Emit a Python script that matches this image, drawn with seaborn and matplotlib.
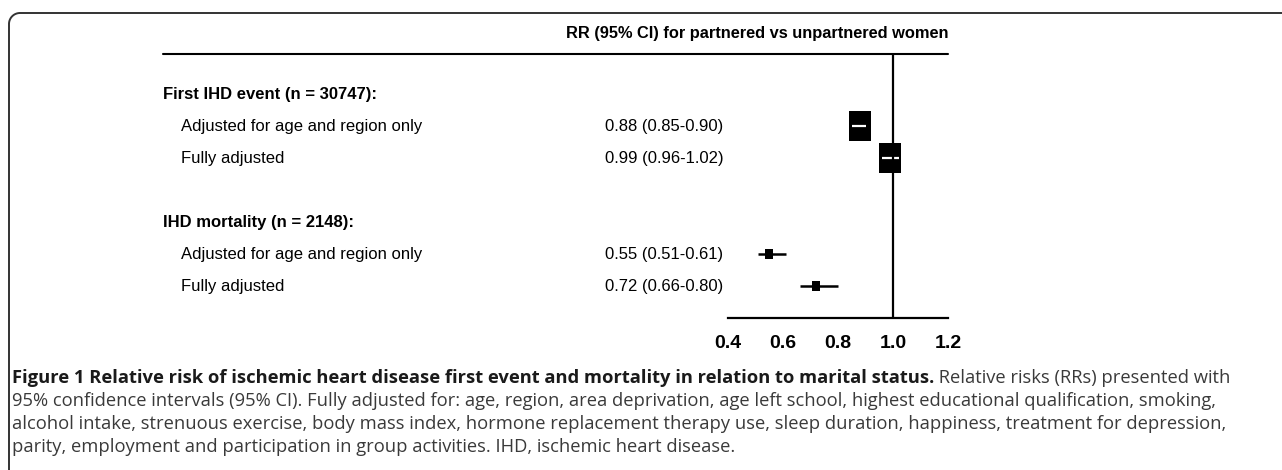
import numpy as np
import pandas as pd
import seaborn as sns
import matplotlib.pyplot as plt
from matplotlib.path import Path
from matplotlib.lines import Line2D
from matplotlib.transforms import blended_transform_factory

# data
groups = ["First IHD event (n = 30747):", "IHD mortality (n = 2148):"]
models = ["Adjusted for age and region only", "Fully adjusted"]
rr_first = [0.88, 0.99]
lo_first = [0.85, 0.96]
hi_first = [0.90, 1.02]
rr_mort = [0.55, 0.72]
lo_mort = [0.51, 0.66]
hi_mort = [0.61, 0.80]
xticks = [0.4, 0.6, 0.8, 1.0, 1.2]

header = "RR (95% CI) for partnered vs unpartnered women"
cap_bold = ("Figure 1 Relative risk of ischemic heart disease first event and "
            "mortality in relation to marital status.")
cap_lines = [
    " Relative risks (RRs) presented with",
    "95% confidence intervals (95% CI). Fully adjusted for: age, region, area deprivation, age left school, highest educational qualification, smoking,",
    "alcohol intake, strenuous exercise, body mass index, hormone replacement therapy use, sleep duration, happiness, treatment for depression,",
    "parity, employment and participation in group activities. IHD, ischemic heart disease.",
]

# table of rows: group header, two models, blank row, group header, two models
df = pd.DataFrame({
    "group": [groups[0]] * 2 + [groups[1]] * 2,
    "model": models * 2,
    "rr": rr_first + rr_mort,
    "lo": lo_first + lo_mort,
    "hi": hi_first + hi_mort,
    "row": [1, 2, 5, 6],
})
df["label"] = [f"{r:.2f} ({l:.2f}-{h:.2f})" for r, l, h in zip(df.rr, df.lo, df.hi)]
df["big"] = [True, True, False, False]

sns.set_theme(style="white")
plt.rcParams["font.family"] = ["Liberation Sans", "DejaVu Sans"]

W, H = 1282, 470
fig = plt.figure(figsize=(W / 100, H / 100), dpi=100)

# plot area: 0.4..1.2 horizontally, header rule to axis line vertically
ax = fig.add_axes([728 / W, (H - 318) / H, 220 / W, 264 / H])
ax.set_xlim(0.4, 1.2)
ax.set_ylim(7.0, -1.25)

def box(w, h):
    return Path([(-w, -h), (w, -h), (w, h), (-w, h), (-w, -h)],
                [Path.MOVETO, Path.LINETO, Path.LINETO, Path.LINETO, Path.CLOSEPOLY])

big = df[df.big]
small = df[~df.big]
sns.scatterplot(data=big, x="rr", y="row", marker=box(22, 30), s=22 ** 2,
                color="black", linewidth=0, ax=ax, zorder=2, legend=False)
sns.scatterplot(data=small, x="rr", y="row", marker=box(8, 10), s=7.6 ** 2,
                color="black", linewidth=0, ax=ax, zorder=2, legend=False)
ax.hlines(big.row, big.lo, big.hi, color="white", lw=1.6, zorder=3)
ax.hlines(small.row, small.lo, small.hi, color="black", lw=1.8, zorder=3)
ax.axvline(1.0, color="black", lw=1.6, zorder=4)

for s in ["top", "right", "left"]:
    ax.spines[s].set_visible(False)
ax.spines["bottom"].set_linewidth(1.6)
ax.spines["bottom"].set_color("black")
ax.set_yticks([])
ax.set_xticks(xticks)
ax.set_xticklabels([f"{t:.1f}" for t in xticks], fontsize=14, fontweight="bold")
ax.tick_params(axis="x", direction="in", length=5, width=1.6, pad=12, colors="black")
ax.set_xlabel("")
ax.set_ylabel("")
ax.patch.set_alpha(0)

# left-hand text columns
fs = 12
tr = blended_transform_factory(fig.transFigure, ax.transData)
for g, r in zip(groups, [0, 4]):
    ax.text(163 / W, r, g, transform=tr, ha="left", va="center",
            fontsize=fs, fontweight="bold", color="black", clip_on=False)
for _, d in df.iterrows():
    ax.text(181 / W, d.row, d.model, transform=tr, ha="left", va="center",
            fontsize=fs, color="black", clip_on=False)
    ax.text(605 / W, d.row, d.label, transform=tr, ha="left", va="center",
            fontsize=fs, color="black", clip_on=False)

ax.text(1.2, -1.9, header, ha="right", va="center", fontsize=11.8,
        fontweight="bold", color="black", clip_on=False)
ax.add_line(Line2D([163 / W, 948 / W], [-1.25, -1.25], transform=tr,
                   color="black", lw=1.5, clip_on=False))

# rounded frame, open on the right and bottom
r = 11
t = np.linspace(np.pi, np.pi / 2, 20)
fx = np.concatenate([[9], 9 + r + r * np.cos(t), [W]])
fy = np.concatenate([[H], 13 + r - r * np.sin(t), [13]])
fig.add_artist(Line2D(fx / W, 1 - fy / H, transform=fig.transFigure,
                      color="#333333", lw=1.4))

# caption
cap_font = ["Open Sans", "DejaVu Sans"]
cap_size = 13.2
cap_y = [378, 401, 424, 447]
fig.canvas.draw()
rend = fig.canvas.get_renderer()
tb = fig.text(12 / W, 1 - cap_y[0] / H, cap_bold, family=cap_font, fontsize=cap_size,
              fontweight="bold", color="#1a1a1a", va="center")
bb = tb.get_window_extent(rend)
fig.text(bb.x1 / W, 1 - cap_y[0] / H, cap_lines[0], family=cap_font,
         fontsize=cap_size, color="#3a3a3a", va="center")
for line, y in zip(cap_lines[1:], cap_y[1:]):
    fig.text(12 / W, 1 - y / H, line, family=cap_font, fontsize=cap_size,
             color="#3a3a3a", va="center")

fig.savefig("out.png", dpi=100)
